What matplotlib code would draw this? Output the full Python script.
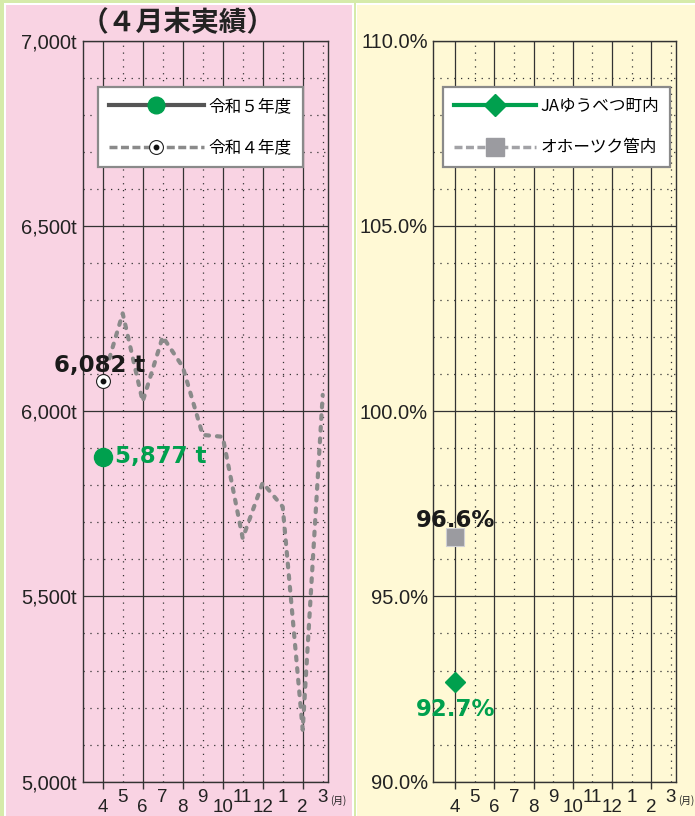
import numpy as np
import matplotlib
matplotlib.use('Agg')
import matplotlib.pyplot as plt
from matplotlib.lines import Line2D
from matplotlib.patches import Rectangle
from matplotlib.legend_handler import HandlerTuple
from matplotlib.ticker import MultipleLocator

# ---- data ----
months = ['4', '5', '6', '7', '8', '9', '10', '11', '12', '1', '2', '3']
r5_volume = [5877, None, None, None, None, None, None, None, None, None, None, None]
r4_volume = [6082, 6264, 6026, 6201, 6120, 5936, 5931, 5657, 5807, 5742, 5140, 6044]
ja_rate = [92.7, None, None, None, None, None, None, None, None, None, None, None]
okhotsk_rate = [96.6, None, None, None, None, None, None, None, None, None, None, None]

vol_ticks = [5000, 5500, 6000, 6500, 7000]
vol_labels = ['5,000t', '5,500t', '6,000t', '6,500t', '7,000t']
rate_ticks = [90, 95, 100, 105, 110]
rate_labels = ['90.0%', '95.0%', '100.0%', '105.0%', '110.0%']

GREEN = '#00A04E'
DARK = '#555555'
GRAY = '#8A8A8A'
LGRAY = '#A2A2A6'
PINK = '#F9D3E3'
YELLOW = '#FFF9D5'
BORDER = '#D6EBAA'

CJK = ['Noto Sans CJK JP', 'DejaVu Sans']
NARROW = ['Liberation Sans Narrow', 'Liberation Sans', 'DejaVu Sans']

W, H = 695, 816


def arr(v):
    return np.array([np.nan if a is None else a for a in v], dtype=float)


def px_rect(x0, y0, x1, y1):
    return [x0 / W, 1 - y1 / H, (x1 - x0) / W, (y1 - y0) / H]


fig = plt.figure(figsize=(W / 100, H / 100), dpi=100)
fig.patch.set_facecolor(BORDER)

# panel backgrounds
for (x0, y0, x1, y1, c) in [(4, 3, 353.5, 816, 'white'), (6, 4.5, 352, 816, PINK),
                            (355.5, 3, 695, 816, 'white'), (357, 4.5, 695, 816, YELLOW)]:
    r = px_rect(x0, y0, x1, y1)
    fig.add_artist(Rectangle((r[0], r[1]), r[2], r[3], transform=fig.transFigure,
                             facecolor=c, edgecolor='none', zorder=0))

ax1 = fig.add_axes(px_rect(82.5, 40.7, 328.3, 781.7))
ax2 = fig.add_axes(px_rect(433.3, 40.7, 676, 781.7))

x = np.arange(len(months))


def style_axes(ax, yticks, ylabels, ylim, yminor, xlim):
    ax.set_facecolor('none')
    ax.set_xlim(*xlim)
    ax.set_ylim(*ylim)
    ax.set_xticks(x[0::2], labels=months[0::2])
    ax.set_xticks(x[1::2], labels=months[1::2], minor=True)
    ax.set_yticks(yticks, labels=ylabels)
    ax.yaxis.set_minor_locator(MultipleLocator(yminor))
    ax.tick_params(axis='x', which='major', length=5, width=1, color='#333333',
                   pad=7.5, labelsize=13.5, labelcolor='#222222')
    ax.tick_params(axis='x', which='minor', length=0, pad=5.5, labelsize=13.5,
                   labelcolor='#222222')
    ax.tick_params(axis='y', which='both', length=0, pad=4, labelsize=14.5,
                   labelcolor='#222222')
    for lab in ax.get_xticklabels(which='both'):
        lab.set_fontfamily(['Liberation Sans', 'DejaVu Sans'])
    for lab in ax.get_yticklabels():
        lab.set_fontfamily(NARROW)
    ax.grid(which='major', color='#333333', lw=0.9, ls='-')
    ax.grid(which='minor', color='#333333', lw=0.9, ls=(0, (1, 4.5)))
    ax.set_axisbelow(True)
    for s in ax.spines.values():
        s.set_color('#333333')
        s.set_linewidth(1.0)


style_axes(ax1, vol_ticks, vol_labels, (5000, 7000), 100, (-1.01, 11.28))
style_axes(ax2, rate_ticks, rate_labels, (90, 110), 1, (-1.12, 11.26))

# ---- left chart: volume ----
ax1.plot(x, arr(r4_volume), color=GRAY, lw=3.0, ls=(0, (0.9, 1.9)),
         dash_capstyle='round', zorder=3)
ax1.plot(x[:1], arr(r4_volume)[:1], ls='none', marker='o', ms=10, mfc='white',
         mec='#222222', mew=0.8, zorder=4)
ax1.plot(x[:1], arr(r4_volume)[:1], ls='none', marker='o', ms=3.2, mfc='#111111',
         mec='#111111', zorder=5)
ax1.plot(x, arr(r5_volume), color=DARK, lw=3, marker='o', ms=13, mfc=GREEN,
         mec=GREEN, zorder=6)

ax1.annotate('6,082 t', xy=(x[0], r4_volume[0]), xytext=(-3, 15),
             textcoords='offset pixels', ha='center', va='center',
             fontsize=16.5, fontweight='bold', color='#1A1A1A', family='DejaVu Sans')
ax1.annotate('5,877 t', xy=(x[0], r5_volume[0]), xytext=(12, 0),
             textcoords='offset pixels', ha='left', va='center',
             fontsize=16.5, fontweight='bold', color=GREEN, family='DejaVu Sans')

h5 = Line2D([], [], color=DARK, lw=3, marker='o', ms=12, mfc=GREEN, mec=GREEN)
h4a = Line2D([], [], color=GRAY, lw=2.5, ls=(0, (2.3, 1.0)), marker='o', ms=10,
             mfc='white', mec='#222222', mew=0.8)
h4b = Line2D([], [], ls='none', marker='o', ms=3.2, mfc='#111111', mec='#111111')
leg1 = ax1.legend([h5, (h4a, h4b)], ['令和５年度', '令和４年度'],
                  handler_map={tuple: HandlerTuple(ndivide=1, pad=0)},
                  loc='upper left', bbox_to_anchor=(0.062, 0.937), borderaxespad=0,
                  prop={'family': CJK, 'size': 12}, handlelength=5.7,
                  handletextpad=0.3, borderpad=0.65, labelspacing=1.45,
                  fancybox=False, framealpha=1, edgecolor='#8A8A8A')
leg1.get_frame().set_linewidth(1.6)
leg1.set_zorder(10)

# ---- right chart: rate ----
ax2.plot(x, arr(okhotsk_rate), color=LGRAY, lw=2.5, ls=(0, (2.3, 1.0)), marker='s',
         ms=13.5, mfc='#9B9BA0', mec='#D0D0D4', mew=0.8, zorder=4)
ax2.plot(x, arr(ja_rate), color=GREEN, lw=3, marker='D', ms=10, mfc=GREEN,
         mec=GREEN, zorder=5)

ax2.annotate('96.6%', xy=(x[0], okhotsk_rate[0]), xytext=(0, 17),
             textcoords='offset pixels', ha='center', va='center',
             fontsize=16.5, fontweight='bold', color='#1A1A1A', family='DejaVu Sans')
ax2.annotate('92.7%', xy=(x[0], ja_rate[0]), xytext=(0, -28),
             textcoords='offset pixels', ha='center', va='center',
             fontsize=16.5, fontweight='bold', color=GREEN, family='DejaVu Sans')

hja = Line2D([], [], color=GREEN, lw=3, marker='D', ms=11, mfc=GREEN, mec=GREEN)
hok = Line2D([], [], color=LGRAY, lw=2.5, ls=(0, (2.3, 1.0)), marker='s', ms=13,
             mfc='#9B9BA0', mec='#9B9BA0')
leg2 = ax2.legend([hja, hok], ['JAゆうべつ町内', 'オホーツク管内'],
                  loc='upper left', bbox_to_anchor=(0.041, 0.937), borderaxespad=0,
                  prop={'family': CJK, 'size': 12}, handlelength=4.9,
                  handletextpad=0.3, borderpad=0.65, labelspacing=1.45,
                  fancybox=False, framealpha=1, edgecolor='#8A8A8A')
leg2.get_frame().set_linewidth(1.6)
leg2.set_zorder(10)

# month unit marks
for ax in (ax1, ax2):
    ax.text(1.0 + 2 / ax.bbox.width, -13 / ax.bbox.height, '(月)',
            transform=ax.transAxes, ha='left', va='top',
            fontsize=7, family=CJK, color='#222222')

fig.text(178 / W, 1 - 22 / H, '（４月末実績）', ha='center', va='center',
         fontsize=20, fontweight='bold', family=CJK, color='#222222')

fig.savefig('out.png', dpi=100, facecolor=fig.get_facecolor())
